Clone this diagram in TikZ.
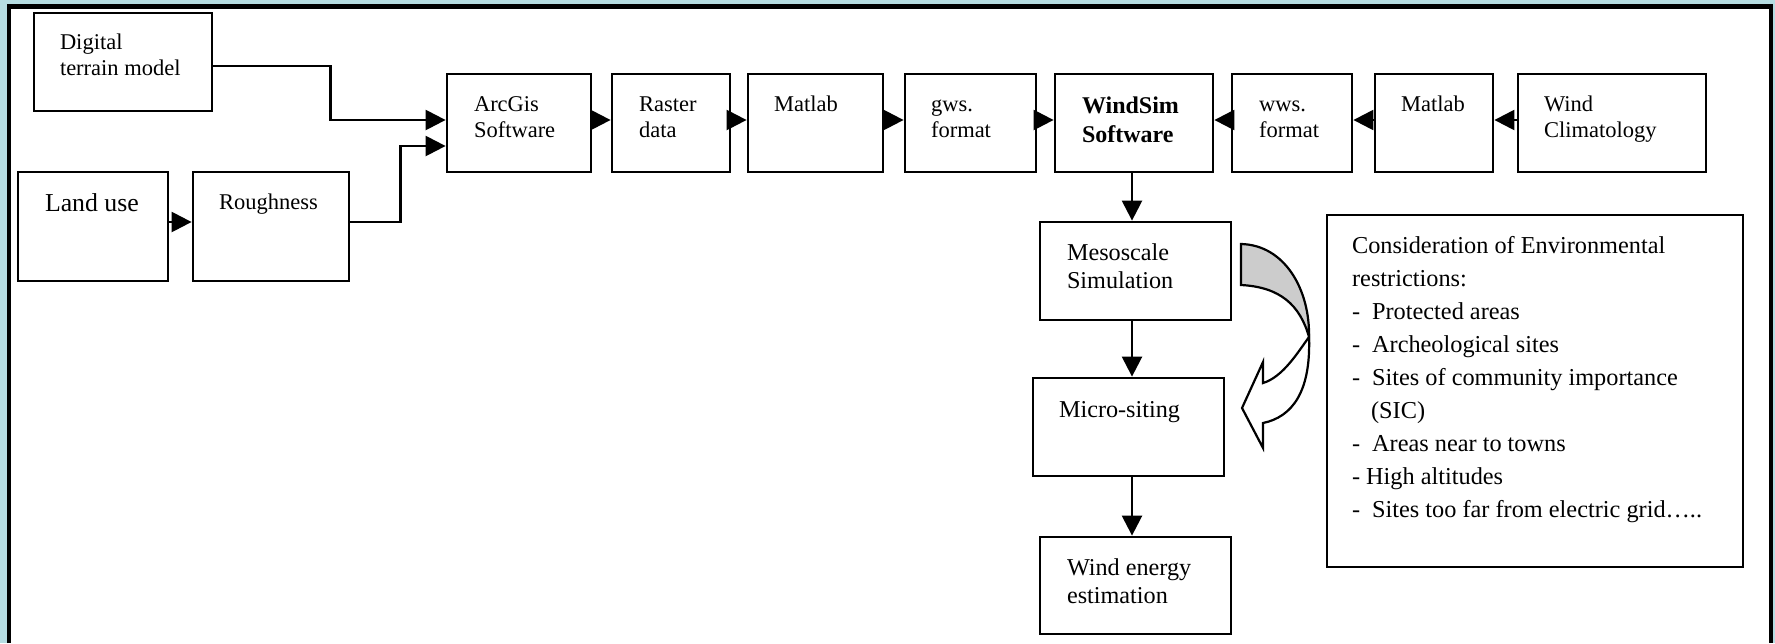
\documentclass[tikz,border=0pt]{standalone}
\usepackage{fontspec}
\setmainfont{Liberation Serif}
\usepackage{tikz}
\usetikzlibrary{positioning, calc, arrows.meta}

\definecolor{framebg}{RGB}{182,221,226}
\definecolor{bandgray}{RGB}{204,204,204}

\tikzset{
    blk/.style={draw, line width=1.4pt, inner sep=0pt, minimum height=49pt},
    txt/.style={inner sep=0pt, anchor=base west, align=left, font=\fontsize{11.25}{13}\selectfont},
    txtlow/.style={txt, font=\fontsize{12.1}{14}\selectfont},
    arr/.style={line width=1.2pt, -{Triangle[length=10pt, width=10pt]}}
}

\begin{document}
\begin{tikzpicture}[x=0.5pt, y=-0.5pt]

    % --- Frame ---
    \useasboundingbox (0,0) rectangle (1775,643);
    \fill[framebg] (0,0) rectangle (1775,643);
    \fill[white] (9,6.5) rectangle (1771,643);
    \draw[line width=2.25pt] (9,643) -- (9,6.5) -- (1771,6.5) -- (1771,643);

    % --- LEFT: terrain and land use ---
    % (text nodes sit on the baseline of their last line)
    \node[blk, minimum width=89pt] (dtm) at (123,62) {};
    \node[blk, minimum width=75pt, minimum height=54.5pt] (land) at (93,226.5) {};
    \node[blk, minimum width=78pt, minimum height=54.5pt] (rough) at (271,226.5) {};

    \node[txt] (dtmT) at ([shift={(13.5pt,-32pt)}]dtm.north west) {Digital\\terrain model};
    \node[txt, font=\fontsize{12.9}{15}\selectfont] (landT) at ([shift={(14pt,-20.5pt)}]land.north west) {Land use};
    \node[txt] (roughT) at ([shift={(13.5pt,-19.3pt)}]rough.north west) {Roughness};

    % --- TOP: processing chain ---
    \node[blk, minimum width=72pt] (arc) at (519,123) {};
    \node[blk, minimum width=59pt] (ras) at (671,123) {};
    \node[blk, minimum width=67.5pt] (mat) at (815.5,123) {};
    \node[blk, minimum width=65.5pt] (gws) at (970.5,123) {};
    \node[blk, minimum width=79pt] (ws) at (1134,123) {};
    \node[blk, minimum width=60pt] (wws) at (1292,123) {};
    \node[blk, minimum width=59pt] (matb) at (1434,123) {};
    \node[blk, minimum width=94pt] (clim) at (1612,123) {};

    \node[txt] (arcT) at ([shift={(14pt,-32.5pt)}]arc.north west) {ArcGis\\Software};
    \node[txt] (rasT) at ([shift={(14pt,-32.5pt)}]ras.north west) {Raster\\data};
    \node[txt] (matT) at ([shift={(13.5pt,-19.5pt)}]mat.north west) {Matlab};
    \node[txt] (gwsT) at ([shift={(13.5pt,-32.5pt)}]gws.north west) {gws.\\format};
    \node[txt, font=\bfseries\fontsize{12}{14.5}\selectfont] (wsT) at ([shift={(14pt,-34.8pt)}]ws.north west) {WindSim\\Software};
    \node[txt] (wwsT) at ([shift={(14pt,-32.5pt)}]wws.north west) {wws.\\format};
    \node[txt] (matbT) at ([shift={(13.5pt,-19.5pt)}]matb.north west) {Matlab};
    \node[txt] (climT) at ([shift={(13.5pt,-32.5pt)}]clim.north west) {Wind\\Climatology};

    % Inputs into ArcGis
    \draw[arr] ([yshift=-2pt]dtm.east) -- ++(117,0) |- ([yshift=1.5pt]arc.west);
    \draw[arr] ([yshift=2.25pt]land.east) -- ([yshift=2.25pt]rough.west);
    \draw[arr] ([yshift=2.25pt]rough.east) -- ++(50,0) |- ([yshift=-11.5pt]arc.west);

    % Chain towards WindSim
    \draw[arr] ([yshift=1.5pt]arc.east) -- ([yshift=1.5pt]ras.west);
    \draw[arr] ([yshift=1.5pt]ras.east) -- ([yshift=1.5pt]mat.west);
    \draw[arr] ([yshift=1.5pt]mat.east) -- ([yshift=1.5pt]gws.west);
    \draw[arr] ([yshift=1.5pt]gws.east) -- ([yshift=1.5pt]ws.west);
    \draw[arr] ([yshift=1.5pt]clim.west) -- ([yshift=1.5pt]matb.east);
    \draw[arr] ([yshift=1.5pt]matb.west) -- ([yshift=1.5pt]wws.east);
    \draw[arr] ([yshift=1.5pt]wws.west) -- ([yshift=1.5pt]ws.east);

    % --- BOTTOM: simulation steps ---
    \node[blk, minimum width=95.5pt] (meso) at (1135.5,271) {};
    \node[blk, minimum width=95.5pt] (micro) at (1128.5,427) {};
    \node[blk, minimum width=95.5pt, minimum height=48.5pt] (energy) at (1135.5,585.5) {};

    \node[txtlow] (mesoT) at ([shift={(14pt,-34pt)}]meso.north west) {Mesoscale\\Simulation};
    \node[txtlow] (microT) at ([shift={(13.5pt,-20.3pt)}]micro.north west) {Micro-siting};
    \node[txtlow] (energyT) at ([shift={(14pt,-34pt)}]energy.north west) {Wind energy\\estimation};

    \coordinate (vx) at (1132,0);
    \draw[arr] (ws.south -| vx) -- (meso.north -| vx);
    \draw[arr] (meso.south -| vx) -- (micro.north -| vx);
    \draw[arr] (micro.south -| vx) -- (energy.north -| vx);

    % --- RIGHT: restrictions ---
    \node[blk, line width=1.3pt, minimum width=208pt, minimum height=176pt] (cons) at (1535,391) {};
    \node[txt, font=\fontsize{12.15}{16.5}\selectfont] (consT) at ([shift={(13pt,-152pt)}]cons.north west)
        {Consideration of Environmental\\
         restrictions:\\
         \makebox[10pt][l]{-}Protected areas\\
         \makebox[10pt][l]{-}Archeological sites\\
         \makebox[10pt][l]{-}Sites of community importance\\
         \hspace*{9.5pt}(SIC)\\
         \makebox[10pt][l]{-}Areas near to towns\\
         \makebox[7pt][l]{-}High altitudes\\
         \makebox[10pt][l]{-}Sites too far from electric grid…..};

    % Curved block arrow
    \filldraw[fill=bandgray, line width=1.1pt] (1241,244) .. controls (1285,245) and (1310,290) .. (1309,337)
        .. controls (1300,305) and (1280,287) .. (1241,285) -- cycle;
    \filldraw[fill=white, line width=1.1pt, line join=miter] (1309,337) .. controls (1311,392) and (1292,417) .. (1263,423)
        -- (1263,448) -- (1242,408) -- (1263,362) -- (1263,383)
        .. controls (1283,377) and (1298,352) .. (1309,337) -- cycle;

\end{tikzpicture}
\end{document}
